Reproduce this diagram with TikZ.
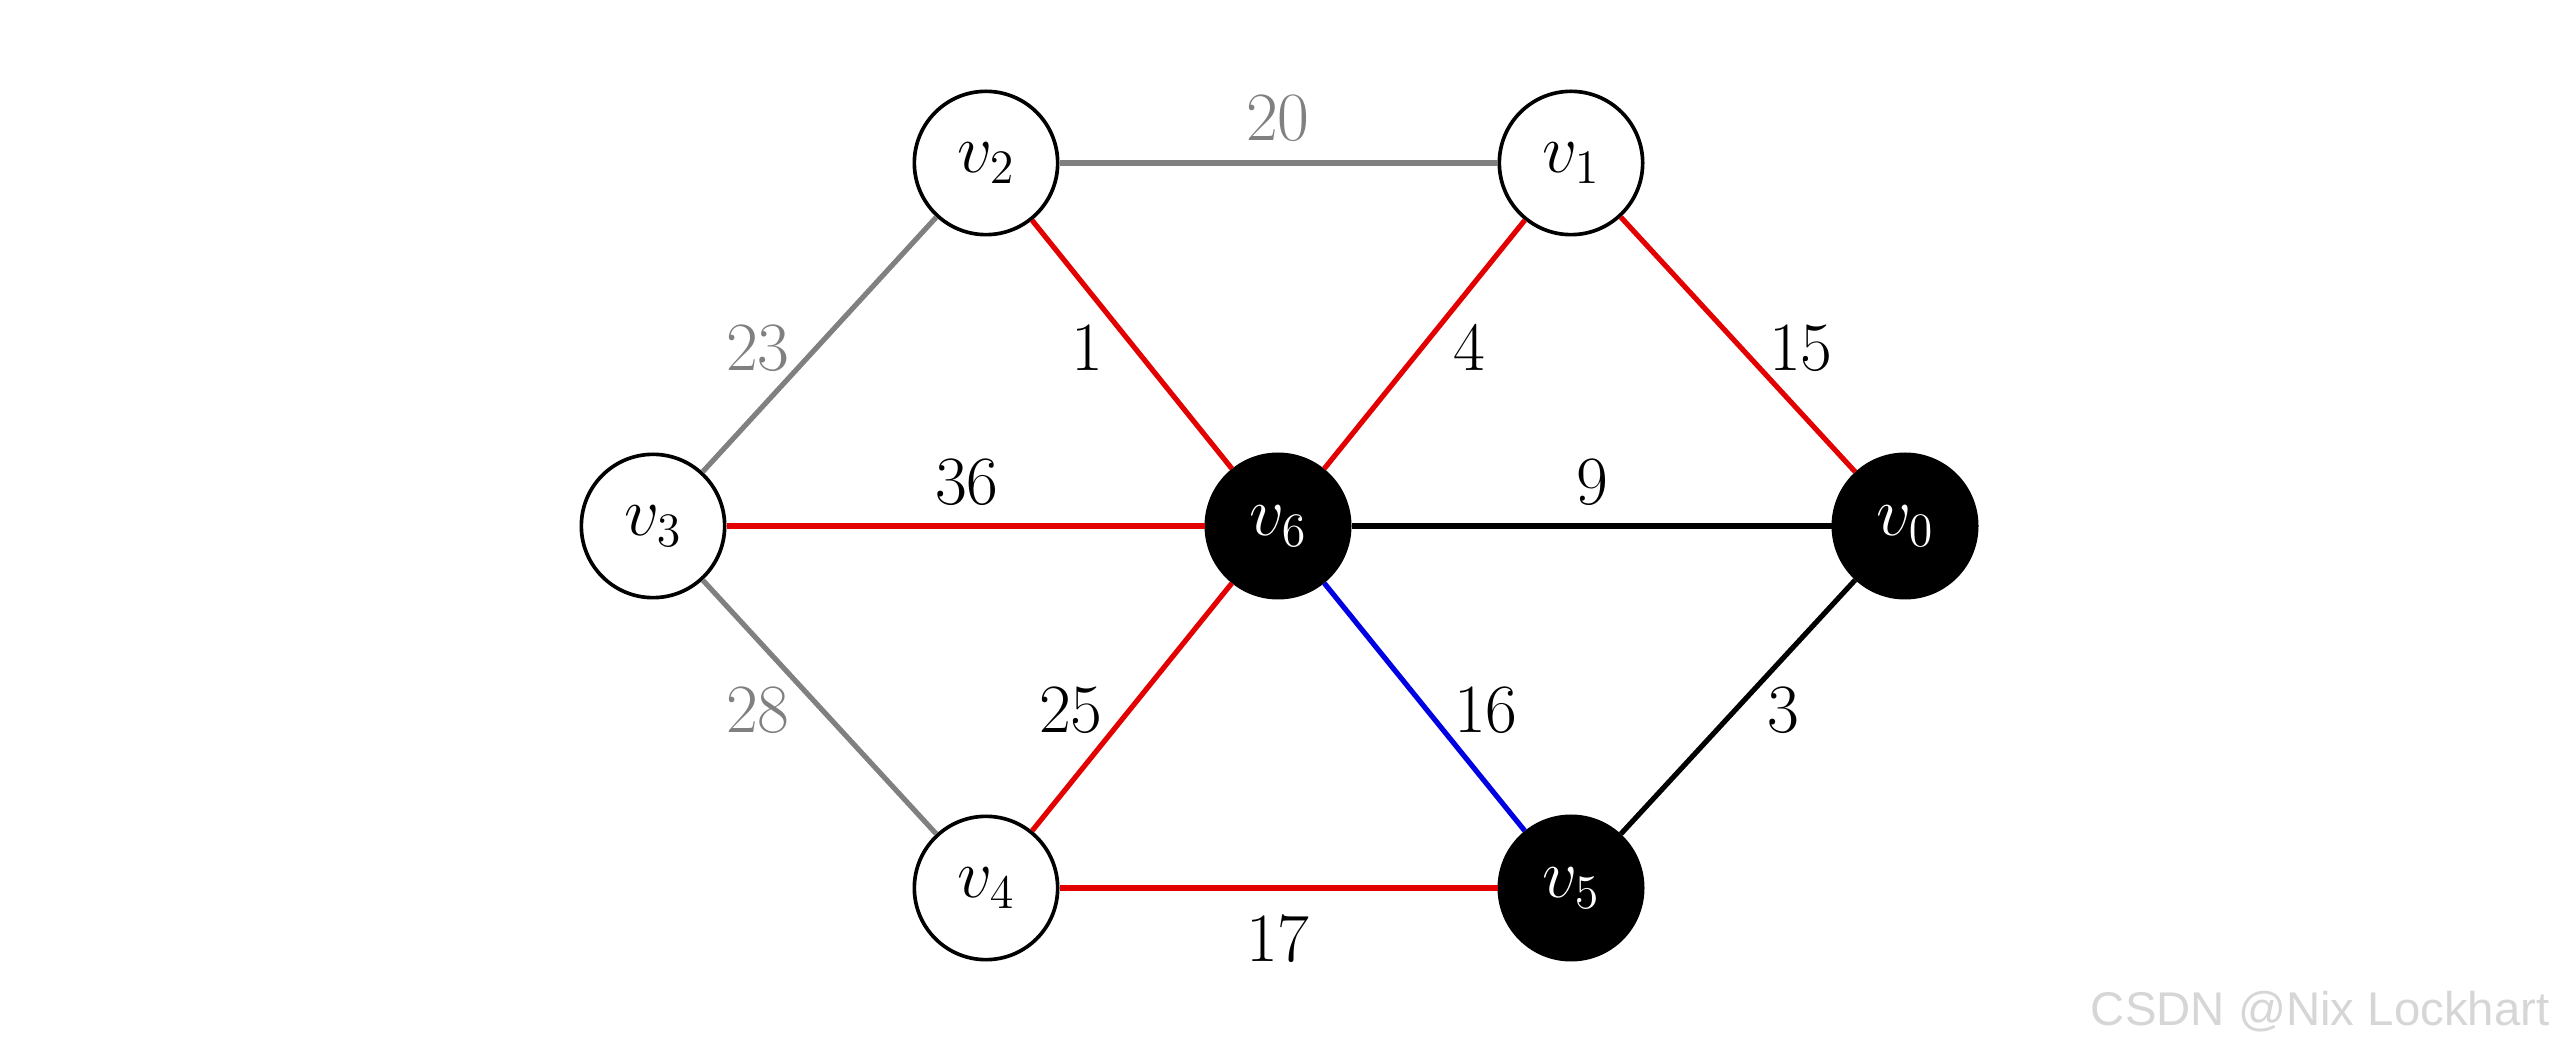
\documentclass[tikz,border=0pt]{standalone}
\usepackage{fontspec}
\newfontfamily\wmfont{Liberation Sans}
\definecolor{edgered}{RGB}{226,0,0}
\definecolor{edgeblue}{RGB}{0,0,226}
\begin{document}
\begin{tikzpicture}[x=0.3pt,y=-0.3pt,
  vtx/.style={circle,draw=black,line width=1.1pt,minimum size=43pt,inner sep=0pt,fill=white,font=\fontsize{20.74}{25}\selectfont},
  vfill/.style={vtx,fill=black,text=white},
  edge/.style={line width=1.55pt},
  lbl/.style={font=\fontsize{20.74}{25}\selectfont,inner sep=0pt}]
\useasboundingbox (0,0) rectangle (2560,1053);
\node[vtx] (v2) at (986,163) {$v_2$};
\node[vtx] (v1) at (1571,163) {$v_1$};
\node[vtx] (v3) at (653,526) {$v_3$};
\node[vfill] (v6) at (1278,526) {$v_6$};
\node[vfill] (v0) at (1905,526) {$v_0$};
\node[vtx] (v4) at (986,888) {$v_4$};
\node[vfill] (v5) at (1571,888) {$v_5$};
\draw[edge,gray] (v2) -- (v1);
\draw[edge,gray] (v2) -- (v3);
\draw[edge,edgered] (v2) -- (v6);
\draw[edge,edgered] (v1) -- (v6);
\draw[edge,edgered] (v1) -- (v0);
\draw[edge,edgered] (v3) -- (v6);
\draw[edge,black] (v6) -- (v0);
\draw[edge,gray] (v3) -- (v4);
\draw[edge,edgered] (v4) -- (v6);
\draw[edge,edgeblue] (v6) -- (v5);
\draw[edge,black] (v0) -- (v5);
\draw[edge,edgered] (v4) -- (v5);
\node[lbl,gray] (l20) at (1278,118) {$20$};
\node[lbl,gray] (l23) at (758,348) {$23$};
\node[lbl] (l1) at (1087,348) {$1$};
\node[lbl] (l4) at (1469,348) {$4$};
\node[lbl] (l15) at (1801,348) {$15$};
\node[lbl] (l36) at (967,482) {$36$};
\node[lbl] (l9) at (1592,482) {$9$};
\node[lbl,gray] (l28) at (758,710) {$28$};
\node[lbl] (l25) at (1071,710) {$25$};
\node[lbl] (l16) at (1486,710) {$16$};
\node[lbl] (l3) at (1783,710) {$3$};
\node[lbl] (l17) at (1278,939) {$17$};
\node[font=\wmfont\fontsize{14.2}{17}\selectfont,text=black!16,anchor=east,inner sep=0pt] (wm) at (2550,1012) {CSDN @Nix Lockhart};
\end{tikzpicture}
\end{document}
